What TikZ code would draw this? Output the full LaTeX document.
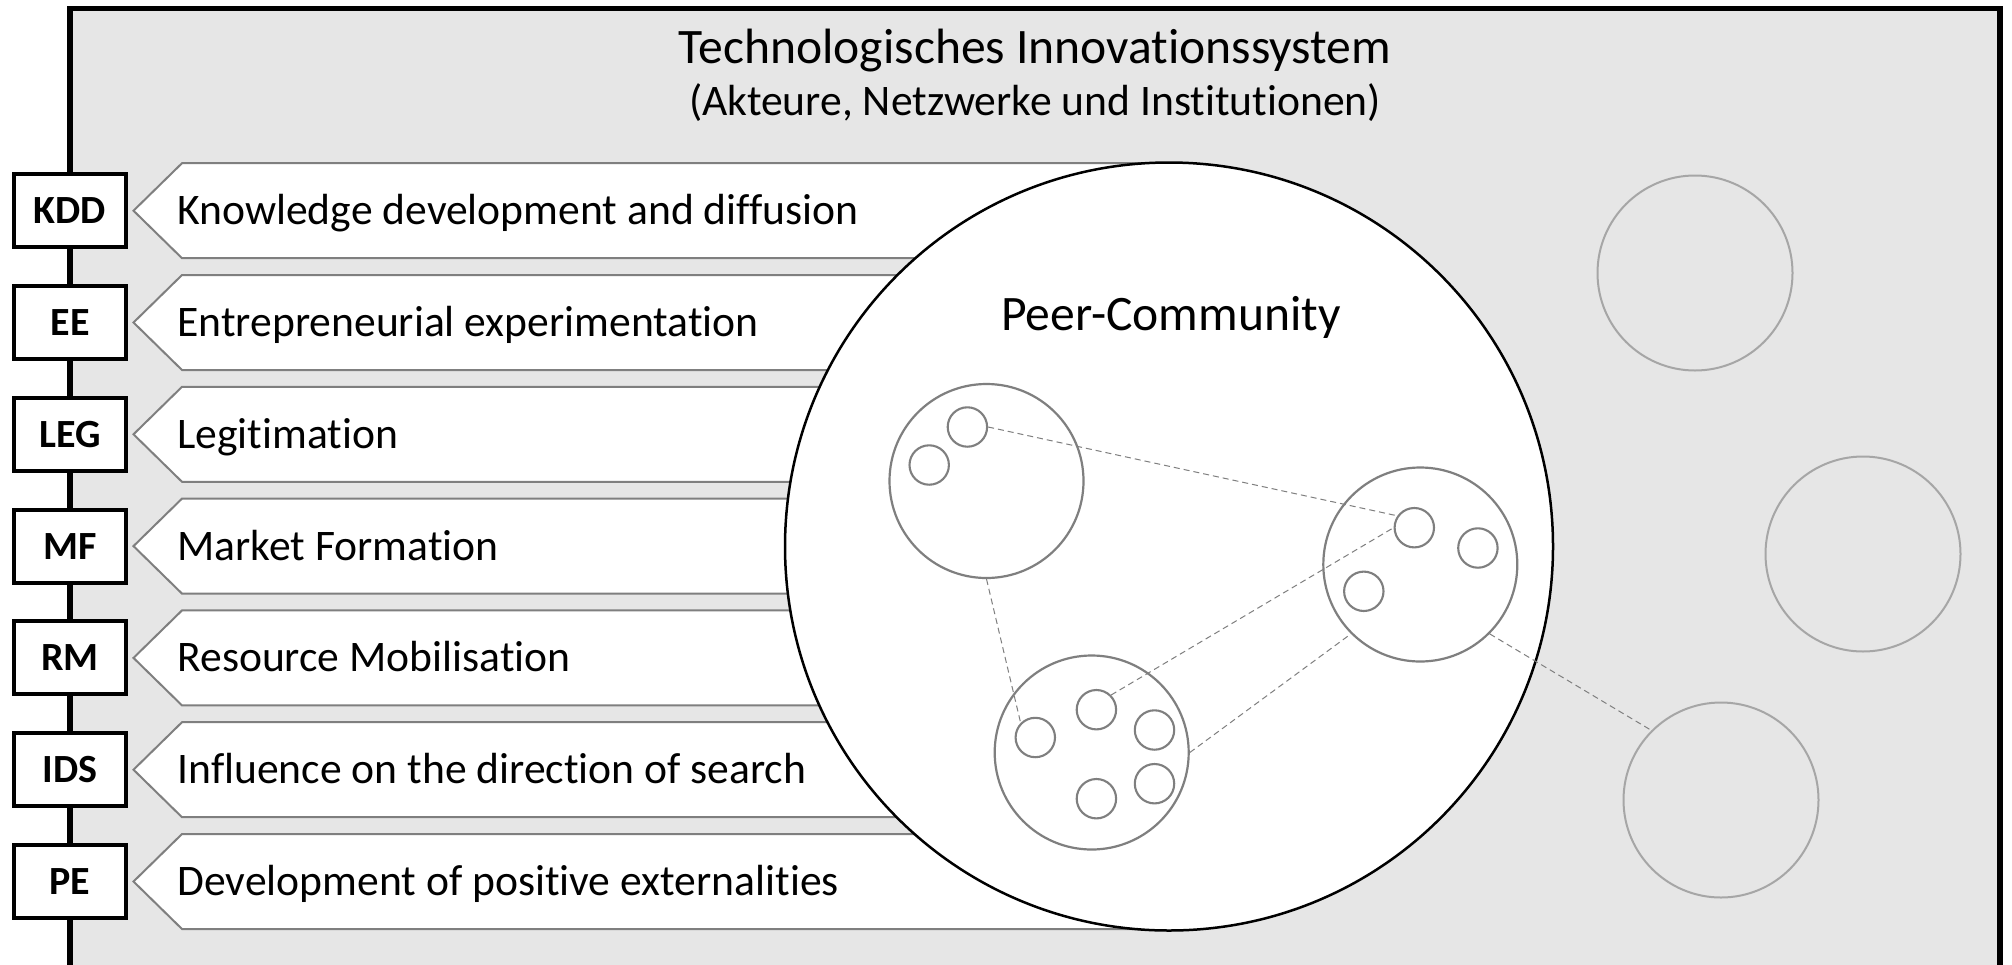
\documentclass[tikz,border=0pt]{standalone}
\usepackage{fontspec}
\setmainfont{Carlito}[Ligatures={NoCommon}]
\definecolor{bgfill}{RGB}{230,230,230}
\definecolor{gline}{RGB}{127,127,127}
\definecolor{lgline}{RGB}{166,166,166}
\begin{document}
\begin{tikzpicture}[x=0.5pt,y=-0.5pt,
 labbox/.style={draw=black, line width=2pt, fill=white, minimum width=56pt, minimum height=36.5pt, inner sep=0pt, font=\fontsize{20}{20}\selectfont\bfseries},
 chev/.style={draw=gline, line width=1pt, fill=white},
 chevtext/.style={anchor=base west, inner sep=0pt, font=\fontsize{21.8}{21.8}\selectfont},
 grp/.style={circle, draw=gline, line width=1.1pt, fill=white, minimum size=97pt, inner sep=0pt},
 actor/.style={circle, draw=gline, line width=1.05pt, fill=white, minimum size=19.7pt, inner sep=0pt},
 extgrp/.style={circle, draw=lgline, line width=1pt, minimum size=97.5pt, inner sep=0pt},
 link/.style={draw=gline, line width=0.5pt, dash pattern=on 3pt off 2pt},
 bigtext/.style={anchor=base, inner sep=0pt, font=\fontsize{24.8}{24.8}\selectfont},
 subtext/.style={anchor=base, inner sep=0pt, font=\fontsize{21.8}{21.8}\selectfont}]
\useasboundingbox (0,0) rectangle (2012,964);
\clip (0,0) rectangle (2012,964);
% frame
\fill[bgfill] (70,8.5) rectangle (2000,1100);
\draw[line width=2.75pt] (70,1100) |- (2000,8.5) -- (2000,1100);
% title
\node[bigtext] (title) at (1035,63) {Technologisches Innovationssystem};
\node[subtext] (subtitle) at (1035,115) {(Akteure, Netzwerke und Institutionen)};
% outer communities
\node[extgrp] (o1) at (1695,273) {};
\node[extgrp] (o2) at (1863,554) {};
\node[extgrp] (o3) at (1721,800) {};
% functions
\foreach \i/\abbr/\txt in {0/KDD/Knowledge development and diffusion,
  1/EE/Entrepreneurial experimentation,
  2/LEG/Legitimation,
  3/MF/Market Formation,
  4/RM/Resource Mobilisation,
  5/IDS/Influence on the direction of search,
  6/PE/Development of positive externalities}{
  \pgfmathsetmacro\cy{210.7+111.8*\i}
  \draw[chev] (1168,{\cy-47.5}) -- (182,{\cy-47.5}) -- (133.5,\cy) -- (182,{\cy+47.5}) -- (1168,{\cy+47.5}) -- cycle;
  \node[chevtext] (lab-\abbr) at (177,{\cy+13.9}) {\txt};
  \node[labbox] (box-\abbr) at (70,\cy) {\abbr};
}
% peer community
\node[circle, draw=black, line width=1.25pt, fill=white, minimum size=384pt, inner sep=0pt] (peer) at (1169,546.5) {};
\node[bigtext] (peerlabel) at (1171,330) {Peer-Community};
% groups
\node[grp] (g1) at (986.5,481) {};
\node[grp] (g2) at (1420.3,564.5) {};
\node[grp] (g3) at (1091.7,752.5) {};
\node[actor] (a1) at (967.4,427) {};
\node[actor] (a2) at (929.2,465) {};
\node[actor] (b1) at (1414.3,527.7) {};
\node[actor] (b2) at (1477.9,548) {};
\node[actor] (b3) at (1363.8,591.3) {};
\node[actor] (c1) at (1035.3,737.5) {};
\node[actor] (c2) at (1096.4,709.7) {};
\node[actor] (c3) at (1154.5,730) {};
\node[actor] (c4) at (1154.5,783.7) {};
\node[actor] (c5) at (1096.4,798.7) {};
% links
\draw[link] (a1.east) -- (b1.145);
\draw[link] (g1.south) -- (c1.135);
\draw[link] (c2.45) -- (b1.west);
\draw[link] (g3.east) -- (g2.225);
\draw[link] (g2.315) -- (o3.135);
\end{tikzpicture}
\end{document}
